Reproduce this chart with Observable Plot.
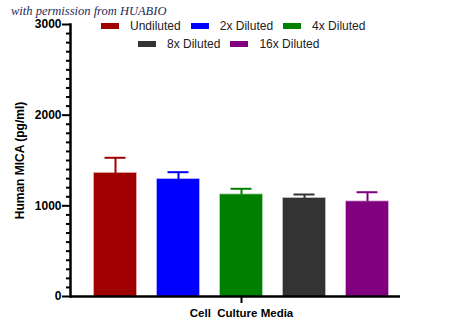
<!DOCTYPE html>
<html>
<head>
<meta charset="utf-8">
<script src="https://cdn.jsdelivr.net/npm/d3@7"></script>
<script src="https://cdn.jsdelivr.net/npm/@observablehq/plot@0.6"></script>
<style>
  body { margin: 0; background: white; }
  #wrap { position: relative; width: 450px; height: 336px; font-family: "Liberation Sans", Arial, sans-serif; }
  #note { position: absolute; left: 11px; top: 4px; font-family: "Liberation Serif", "DejaVu Serif", serif; font-style: italic; font-size: 12.5px; color: #1c2b5c; white-space: nowrap; }
  .row { position: absolute; display: flex; align-items: center; font-size: 12px; color: #222; white-space: nowrap; }
  .item { display: flex; align-items: center; margin-right: 10px; }
  .sw { width: 18px; height: 6px; margin-right: 11px; }
</style>
</head>
<body>
<div id="wrap">
  <div id="chart"></div>
  <div id="note">with permission from HUABIO</div>
  <div class="row" id="row1" style="left:101px; top:19px; height:14px;"></div>
  <div class="row" id="row2" style="left:138px; top:37px; height:14px;"></div>
</div>
<script>
const categories = ["Undiluted", "2x Diluted", "4x Diluted", "8x Diluted", "16x Diluted"];
const means = [1357, 1290, 1121, 1081, 1044];
const errors = [173, 81, 67, 44, 106];
const colors = ["#a00000", "#0000ff", "#008000", "#333333", "#800080"];
const majorTicks = [0, 1000, 2000, 3000];
const minorTicks = d3.range(0, 3001, 100).filter(v => v % 1000 !== 0);
const xTitle = "Cell\u00a0 Culture Media";
const yTitle = "Human MICA (pg/ml)";

const data = categories.map((c, i) => ({cat: c, mean: means[i], err: errors[i], color: colors[i]}));

const chart = Plot.plot({
  width: 450,
  height: 336,
  marginLeft: 70,
  marginRight: 50,
  marginTop: 24,
  marginBottom: 40,
  style: {fontFamily: "'Liberation Sans', Arial, sans-serif", background: "white", color: "black"},
  x: {domain: categories, paddingInner: 0.34, paddingOuter: 0.26, align: 0.66, axis: null},
  y: {domain: [0, 3000], axis: null},
  color: {type: "identity"},
  marks: [
    Plot.barY(data, {x: "cat", y: "mean", fill: "color", stroke: "color", strokeOpacity: 0.45, strokeWidth: 1.5}),
    Plot.ruleX(data, {x: "cat", y1: "mean", y2: d => d.mean + d.err, stroke: "color", strokeWidth: 2}),
    Plot.tickY(data, {x: "cat", y: d => d.mean + d.err, stroke: "color", strokeWidth: 2, insetLeft: 10.5, insetRight: 10.5}),
    Plot.axisY({ticks: minorTicks, tickSize: 4, tickFormat: () => "", strokeWidth: 2, label: null}),
    Plot.axisY({ticks: majorTicks, tickSize: 8, tickPadding: 1, strokeWidth: 2, fontWeight: "bold", fontSize: 12,
      tickFormat: d3.format("d"),
      label: yTitle, labelAnchor: "center", labelArrow: "none", labelOffset: 55}),
    Plot.axisX({ticks: [categories[2]], tickSize: 7, tickPadding: 5, strokeWidth: 2, tickFormat: () => xTitle,
      fontWeight: "bold", fontSize: 11.5, label: null}),
    Plot.frame({anchor: "left", strokeWidth: 2.5}),
    Plot.ruleY([0], {strokeWidth: 2.5})
  ]
});
document.getElementById("chart").appendChild(chart);

const rows = [document.getElementById("row1"), document.getElementById("row2")];
categories.forEach((c, i) => {
  const item = document.createElement("div");
  item.className = "item";
  item.innerHTML = `<div class="sw" style="background:${colors[i]}"></div><span>${c}</span>`;
  rows[i < 3 ? 0 : 1].appendChild(item);
});
</script>
</body>
</html>
